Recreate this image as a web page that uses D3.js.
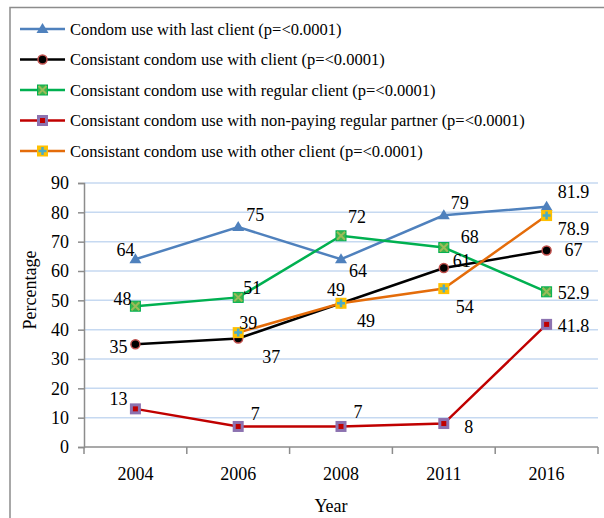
<!DOCTYPE html>
<html>
<head>
<meta charset="utf-8">
<script src="https://cdn.jsdelivr.net/npm/d3@7"></script>
<style>
  body { margin: 0; background: #fff; }
  svg { display: block; }
  svg text { font-family: "Liberation Serif", "Times New Roman", serif; }
</style>
</head>
<body>
<svg width="604" height="518"></svg>
<script>
// chart data
var years = ['2004', '2006', '2008', '2011', '2016'];
var yTicks = [0, 10, 20, 30, 40, 50, 60, 70, 80, 90];
var lastClient = [64, 75, 64, 79, 81.9];
var withClient = [35, 37, 49, 61, 67];
var regularClient = [48, 51, 72, 68, 52.9];
var nonPaying = [13, 7, 7, 8, 41.8];
var otherClient = [null, 39, 49, 54, 78.9];
var seriesNames = [
    'Condom use with last client (p=<0.0001)',
    'Consistant condom use with client (p=<0.0001)',
    'Consistant condom use with regular client (p=<0.0001)',
    'Consistant condom use with non-paying regular partner (p=<0.0001)',
    'Consistant condom use with other client (p=<0.0001)'
];

// styling per series, and label offsets relative to each point
var series = [
    {values: lastClient, color: '#4f81bd', marker: 'triangle',
     off: [[-10, -3], [17, -6], [17, 18], [16, -6], [27, -9]]},
    {values: withClient, color: '#000000', marker: 'circle',
     off: [[-17, 9], [33, 25], [25, 24], [18, -1], [27, 6]]},
    {values: regularClient, color: '#00b050', marker: 'cross',
     off: [[-13, -1], [14, -3], [16, -13], [26, -5], [27, 7]]},
    {values: nonPaying, color: '#c00000', marker: 'square',
     off: [[-17, -4], [17, -6], [17, -8], [25, 9], [27, 8]]},
    {values: otherClient, color: '#e46c0a', marker: 'plus',
     off: [[0, 0], [10, -4], [-5, -7], [21, 24], [27, 19]]}
];

var serif = '"Liberation Serif", "Times New Roman", serif';
var svg = d3.select('svg');
var plot = {l: 84, r: 598, t: 183, b: 447};

// frame
svg.append('rect')
    .attr('x', 10).attr('y', 7.5)
    .attr('width', 620).attr('height', 540)
    .attr('fill', 'none')
    .attr('stroke', '#8c8c8c')
    .attr('stroke-width', 1.5);

var x = d3.scaleBand().domain(years).range([plot.l, plot.r]);
var y = d3.scaleLinear().domain([0, 90]).range([plot.b, plot.t]);

// gridlines
svg.append('g')
    .selectAll('line')
    .data(yTicks.filter(function(d) { return d > 0; }))
    .enter().append('line')
    .attr('x1', plot.l).attr('x2', plot.r)
    .attr('y1', function(d) { return y(d); })
    .attr('y2', function(d) { return y(d); })
    .attr('stroke', '#c6d9f1')
    .attr('stroke-width', 1.5);

// y axis
var yAxis = svg.append('g')
    .attr('transform', 'translate(' + plot.l + ',0)')
    .call(d3.axisLeft(y).tickValues(yTicks).tickSize(6).tickPadding(9));
yAxis.attr('font-family', serif).attr('font-size', 18);
yAxis.select('.domain').attr('stroke', '#8c8c8c').attr('stroke-width', 1.5);
yAxis.selectAll('.tick line').attr('stroke', '#8c8c8c').attr('stroke-width', 1.5);
yAxis.selectAll('.tick text').attr('fill', '#000');

// x axis: ticks between categories
var xAxis = svg.append('g')
    .attr('transform', 'translate(0,' + plot.b + ')');
xAxis.append('line')
    .attr('x1', plot.l).attr('x2', plot.r)
    .attr('stroke', '#8c8c8c').attr('stroke-width', 1.5);
var edges = years.map(function(d) { return x(d); }).concat([x(years[years.length - 1]) + x.bandwidth()]);
xAxis.selectAll('.edge')
    .data(edges)
    .enter().append('line')
    .attr('class', 'edge')
    .attr('x1', function(d) { return d; }).attr('x2', function(d) { return d; })
    .attr('y1', 0).attr('y2', 7)
    .attr('stroke', '#8c8c8c').attr('stroke-width', 1.5);
xAxis.selectAll('.lab')
    .data(years)
    .enter().append('text')
    .attr('class', 'lab')
    .attr('x', function(d) { return x(d) + x.bandwidth() / 2; })
    .attr('y', 33)
    .attr('text-anchor', 'middle')
    .attr('font-size', 18)
    .text(function(d) { return d; });

// axis titles
svg.append('text')
    .attr('x', 331).attr('y', 512)
    .attr('text-anchor', 'middle')
    .attr('font-size', 18)
    .text('Year');
svg.append('text')
    .attr('transform', 'translate(36,290) rotate(-90)')
    .attr('text-anchor', 'middle')
    .attr('font-size', 18)
    .text('Percentage');

function cx(i) { return x(years[i]) + x.bandwidth() / 2; }

function drawMarker(g, kind, px, py) {
    if (kind === 'triangle') {
        g.append('path')
            .attr('d', 'M' + px + ',' + (py - 6) + 'L' + (px + 6) + ',' + (py + 4) + 'L' + (px - 6) + ',' + (py + 4) + 'Z')
            .attr('fill', '#4f81bd');
    } else if (kind === 'circle') {
        g.append('circle').attr('cx', px).attr('cy', py).attr('r', 4.5)
            .attr('fill', '#000').attr('stroke', '#c0504d').attr('stroke-width', 1.5);
    } else if (kind === 'cross') {
        g.append('rect').attr('x', px - 5).attr('y', py - 5).attr('width', 10).attr('height', 10)
            .attr('fill', '#3cb44b').attr('stroke', '#00b050').attr('stroke-width', 1);
        g.append('path')
            .attr('d', 'M' + (px - 4) + ',' + (py - 4) + 'L' + (px + 4) + ',' + (py + 4) + 'M' + (px + 4) + ',' + (py - 4) + 'L' + (px - 4) + ',' + (py + 4))
            .attr('stroke', '#9bbb59').attr('stroke-width', 2);
    } else if (kind === 'square') {
        g.append('rect').attr('x', px - 4).attr('y', py - 4).attr('width', 8).attr('height', 8)
            .attr('fill', '#c00000').attr('stroke', '#8c72b0').attr('stroke-width', 3);
    } else if (kind === 'plus') {
        g.append('rect').attr('x', px - 5.5).attr('y', py - 5.5).attr('width', 11).attr('height', 11)
            .attr('fill', '#ffc000');
        g.append('path')
            .attr('d', 'M' + px + ',' + (py - 4) + 'V' + (py + 4) + 'M' + (px - 4) + ',' + py + 'H' + (px + 4))
            .attr('stroke', '#4bacc6').attr('stroke-width', 2.5);
    }
}

var line = d3.line()
    .defined(function(d) { return d != null; })
    .x(function(d, i) { return cx(i); })
    .y(function(d) { return y(d); });

// lines
series.forEach(function(s) {
    svg.append('path')
        .datum(s.values)
        .attr('d', line)
        .attr('fill', 'none')
        .attr('stroke', s.color)
        .attr('stroke-width', 2.5);
});

// markers
series.forEach(function(s) {
    var g = svg.append('g');
    s.values.forEach(function(v, i) {
        if (v == null) return;
        drawMarker(g, s.marker, cx(i), y(v));
    });
});

// data labels
series.forEach(function(s) {
    s.values.forEach(function(v, i) {
        if (v == null) return;
        svg.append('text')
            .attr('x', cx(i) + s.off[i][0])
            .attr('y', y(v) + s.off[i][1])
            .attr('text-anchor', 'middle')
            .attr('font-size', 18)
            .text(v);
    });
});

// legend
var legend = svg.append('g');
seriesNames.forEach(function(name, i) {
    var ly = 29 + i * 30.5;
    legend.append('line')
        .attr('x1', 20).attr('x2', 65)
        .attr('y1', ly).attr('y2', ly)
        .attr('stroke', series[i].color)
        .attr('stroke-width', 2.5);
    drawMarker(legend, series[i].marker, 42.5, ly);
    legend.append('text')
        .attr('x', 70).attr('y', ly + 5.5)
        .attr('font-size', 16.5)
        .text(name);
});

// make sure every text uses the serif face
svg.selectAll('text').attr('font-family', serif);
</script>
</body>
</html>
